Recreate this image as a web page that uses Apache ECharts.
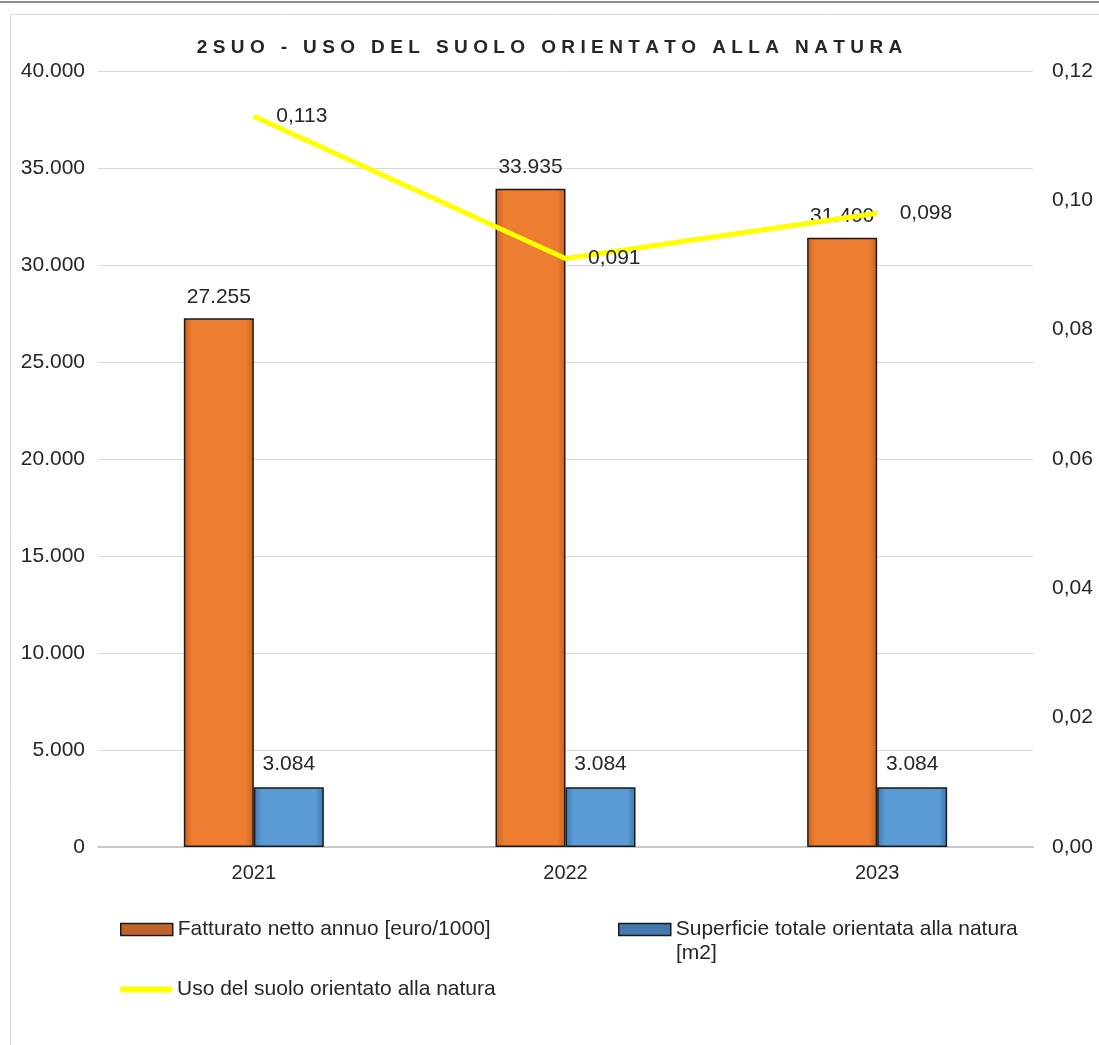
<!DOCTYPE html>
<html><head><meta charset="utf-8">
<script src="https://cdn.jsdelivr.net/npm/echarts@6/dist/echarts.min.js"></script>
<style>html,body{margin:0;padding:0;background:#fff}#c{width:1099px;height:1045px}</style>
</head><body><div id="c"></div>
<script>
const categories = ['2021', '2022', '2023'];
const fatturato = [27255, 33935, 31400];
const superficie = [3084, 3084, 3084];
const usoSuolo = [0.113, 0.091, 0.098];
const leftTicks = { min: 0, max: 40000, interval: 5000 };
const rightTicks = { min: 0, max: 0.12, interval: 0.02 };
const titleText = '2SUO - USO DEL SUOLO ORIENTATO ALLA NATURA';
const names = ['Fatturato netto annuo [euro/1000]', 'Superficie totale orientata alla natura', 'Uso del suolo orientato alla natura'];
const name2Tail = '[m2]';

const FONT = 'Liberation Sans, Arial, sans-serif';
const TXT = '#262626';
function itNum(v) { return Math.round(v).toString().replace(/\B(?=(\d{3})+(?!\d))/g, '.'); }
function shade(c1, c2) {
  return { type: 'linear', x: 0, y: 0, x2: 1, y2: 0, colorStops: [
    { offset: 0, color: c2 }, { offset: 0.12, color: c1 }, { offset: 0.88, color: c1 }, { offset: 1, color: c2 }] };
}
const spaced = titleText.split('').join('\u2009\u200A');
const legendText = { fontSize: 21, color: TXT, fontFamily: FONT };

const chart = echarts.init(document.getElementById('c'));
chart.setOption({
  animation: false,
  textStyle: { fontFamily: FONT },
  title: { text: spaced, left: 'center', top: 33, textStyle: { fontSize: 19, fontWeight: 'bold', color: TXT, fontFamily: FONT } },
  graphic: [
    { type: 'rect', shape: { x: 0, y: 1, width: 1099, height: 2 }, style: { fill: '#8c8c8c' }, silent: true },
    { type: 'rect', shape: { x: 10.5, y: 14.5, width: 1100, height: 1100 }, style: { fill: 'none', stroke: '#d9d9d9', lineWidth: 1 }, silent: true },
    { type: 'text', left: 676, top: 943, style: { text: name2Tail, fontSize: 21, fill: TXT, fontFamily: FONT }, silent: true }
  ],
  grid: { left: 98, right: 66, top: 71, bottom: 198, containLabel: false },
  legend: [
    { left: 115, top: 914, itemWidth: 52, itemHeight: 12, icon: 'rect',
      data: [{ name: names[0], itemStyle: { color: '#C0642B', borderColor: '#1a1a1a', borderWidth: 1.5 } }], textStyle: legendText },
    { left: 613, top: 914, itemWidth: 52, itemHeight: 12, icon: 'rect',
      data: [{ name: names[1], itemStyle: { color: '#4478AE', borderColor: '#1a1a1a', borderWidth: 1.5 } }], textStyle: legendText },
    { left: 115, top: 974, itemWidth: 52, itemHeight: 6, icon: 'roundRect', data: [names[2]], textStyle: legendText }
  ],
  xAxis: {
    type: 'category', data: categories,
    axisLine: { lineStyle: { color: '#c8c8c8', width: 2 } },
    axisTick: { show: false },
    axisLabel: { fontSize: 20, color: TXT, margin: 16 }
  },
  yAxis: [
    { type: 'value', min: leftTicks.min, max: leftTicks.max, interval: leftTicks.interval,
      axisLabel: { fontSize: 21, color: TXT, margin: 13, formatter: v => itNum(v) },
      splitLine: { lineStyle: { color: '#d9d9d9', width: 1 } }, axisLine: { show: false }, axisTick: { show: false } },
    { type: 'value', min: rightTicks.min, max: rightTicks.max, interval: rightTicks.interval,
      axisLabel: { fontSize: 21, color: TXT, margin: 19, formatter: v => v.toFixed(2).replace('.', ',') },
      splitLine: { show: false }, axisLine: { show: false }, axisTick: { show: false } }
  ],
  series: [
    { name: names[0], type: 'bar', data: fatturato, barWidth: 70, barGap: '0%',
      itemStyle: { color: shade('#ED7D31', '#c7631f'), borderColor: '#1a1a1a', borderWidth: 1.5 },
      label: { show: true, position: 'top', distance: 11, fontSize: 21, color: TXT, formatter: p => itNum(p.value) } },
    { name: names[1], type: 'bar', data: superficie, barWidth: 70,
      itemStyle: { color: shade('#5B9BD5', '#3f78ae'), borderColor: '#1a1a1a', borderWidth: 1.5 },
      label: { show: true, position: 'top', distance: 12, fontSize: 21, color: TXT, formatter: p => itNum(p.value) } },
    { name: names[2], type: 'line', yAxisIndex: 1, data: usoSuolo, symbol: 'circle', symbolSize: 1, showSymbol: true,
      lineStyle: { color: '#FFFF00', width: 5 }, itemStyle: { color: '#FFFF00' },
      label: { show: true, position: 'right', distance: 22, fontSize: 21, color: TXT, formatter: p => p.value.toFixed(3).replace('.', ',') } }
  ]
});
</script></body></html>
